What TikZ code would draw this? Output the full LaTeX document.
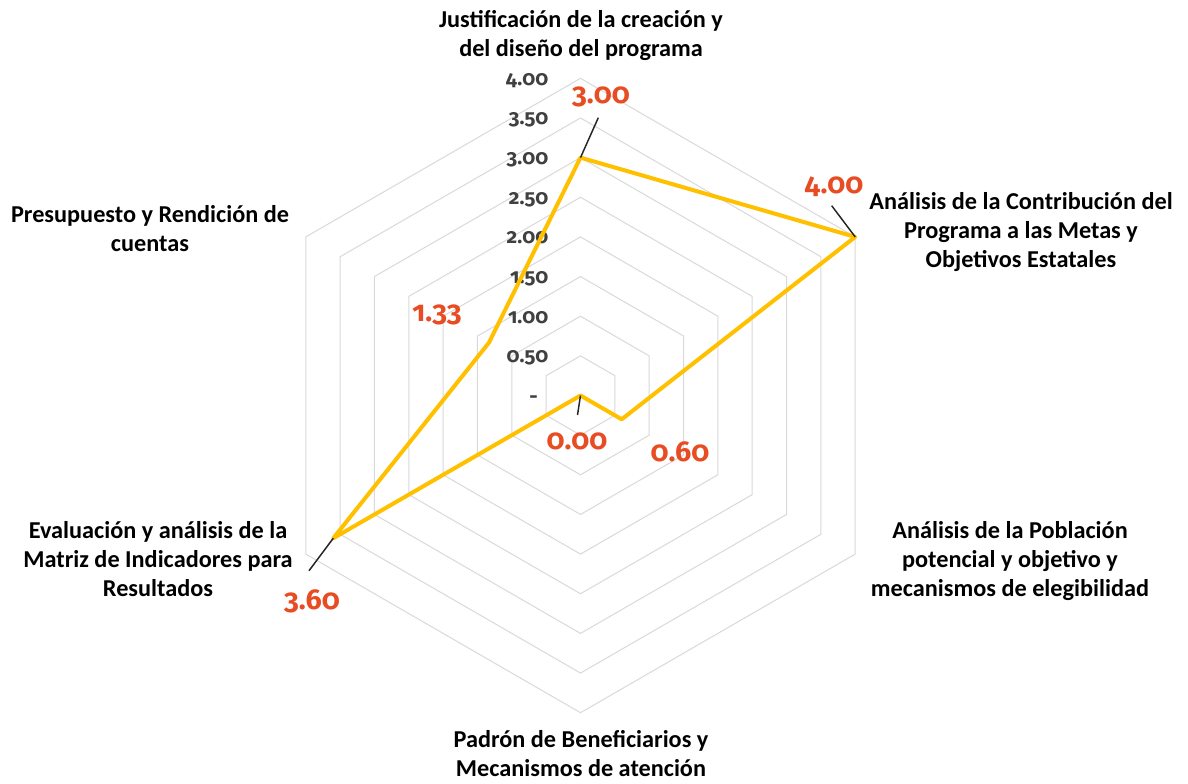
\documentclass[tikz,border=0pt]{standalone}
\usepackage{fontspec}
\setmainfont{Carlito}
\newfontfamily\numfont[Numbers=OldStyle]{Fira Sans}
\usetikzlibrary{calc}
\definecolor{gridc}{HTML}{D9D9D9}
\definecolor{serie}{HTML}{FFC000}
\definecolor{lbl}{HTML}{E84C22}
\definecolor{axtxt}{HTML}{404040}
\begin{document}
\begin{tikzpicture}[x=0.75pt,y=-0.75pt,
  cat/.style={font=\fontsize{18.2}{21.75}\selectfont\bfseries, align=center, anchor=base, inner sep=0pt},
  datlbl/.style={font=\numfont\fontsize{21.5}{26}\selectfont\bfseries, text=lbl, anchor=base, inner sep=0pt},
  axlbl/.style={font=\numfont\fontsize{15.5}{20}\selectfont\bfseries, text=axtxt, anchor=base east, inner sep=0pt},
  gridline/.style={draw=gridc, line width=0.75pt},
  leader/.style={draw=black!85, line width=1.1pt},
  serieline/.style={draw=serie, line width=3pt, line join=round}]

\useasboundingbox[fill=white] (0,0) rectangle (1188,783);
\coordinate (O) at (580.5,395.5);
\def\u{79.3}

% grid hexagons
\foreach \k in {1,...,8}{
  \pgfmathsetmacro\r{\k*0.5*\u}
  \draw[gridline] ($(O)+(-90:\r)$) -- ($(O)+(-30:\r)$) -- ($(O)+(30:\r)$) -- ($(O)+(90:\r)$) -- ($(O)+(150:\r)$) -- ($(O)+(210:\r)$) -- cycle;
}

% axis value labels
\foreach \v/\k in {0.50/1,1.00/2,1.50/3,2.00/4,2.50/5,3.00/6,3.50/7,4.00/8}{
  \node[axlbl] (ax\k) at (548.5,{395.5-\k*39.65+7}) {\v};
}
\node[axlbl] (ax0) at (538,403) {-};

% data points
\coordinate (p1) at ($(O)+(-90:3.00*\u)$);
\coordinate (p2) at ($(O)+(-30:4.00*\u)$);
\coordinate (p3) at ($(O)+(30:0.60*\u)$);
\coordinate (p4) at (O);
\coordinate (p5) at ($(O)+(150:3.60*\u)$);
\coordinate (p6) at ($(O)+(210:1.333*\u)$);

\draw[serieline] (p1) -- (p2) -- (p3) -- (p4) -- (p5) -- (p6) -- cycle;

% leader lines
\coordinate (l1) at (598.3,117.7);
\coordinate (l2) at (831.7,205.7);
\coordinate (l4) at (577.5,415);
\coordinate (l5) at (309,570.7);
\draw[leader] (p1) -- (l1);
\draw[leader] (p2) -- (l2);
\draw[leader] (p4) -- (l4);
\draw[leader] (p5) -- (l5);

% data labels
\node[datlbl] (d1) at (601,103.5) {3.00};
\node[datlbl] (d2) at (834,193) {4.00};
\node[datlbl] (d3) at (680,461.5) {0.60};
\node[datlbl] (d4) at (577,449.3) {0.00};
\node[datlbl] (d5) at (312,609) {3.60};
\node[datlbl] (d6) at (437,321.7) {1.33};

% category labels (anchor = baseline of last line)
\node[cat] (c1) at (581,56) {Justificación de la creación y\\del diseño del programa};
\node[cat] (c2) at (1021,267.3) {Análisis de la Contribución del\\Programa a las Metas y\\Objetivos Estatales};
\node[cat] (c3) at (1010,596.7) {Análisis de la Población\\potencial y objetivo y\\mecanismos de elegibilidad};
\node[cat] (c4) at (581,776.7) {Padrón de Beneficiarios y\\Mecanismos de atención};
\node[cat] (c5) at (158,596.7) {Evaluación y análisis de la\\Matriz de Indicadores para\\Resultados};
\node[cat] (c6) at (150,251.7) {Presupuesto y Rendición de\\cuentas};
\end{tikzpicture}
\end{document}
